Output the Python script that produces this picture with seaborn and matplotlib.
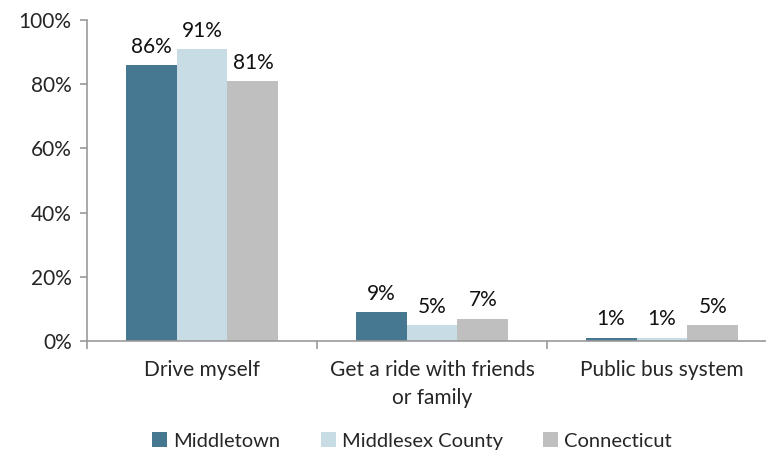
import matplotlib
matplotlib.use("Agg")
import matplotlib.pyplot as plt
import seaborn as sns
import pandas as pd

categories = ["Drive myself", "Get a ride with friends\nor family", "Public bus system"]
series = ["Middletown", "Middlesex County", "Connecticut"]
middletown = [86, 9, 1]
middlesex = [91, 5, 1]
connecticut = [81, 7, 5]
colors = ["#467891", "#C8DCE6", "#BFBFBF"]

rows = []
for name, vals in zip(series, [middletown, middlesex, connecticut]):
    for cat, v in zip(categories, vals):
        rows.append({"Category": cat, "Series": name, "Value": v})
df = pd.DataFrame(rows)

sns.set_style("white")
plt.rcParams["font.family"] = ["Lato", "DejaVu Sans"]
fs = 15

fig = plt.figure(figsize=(7.66, 4.66), dpi=100)
ax = fig.add_axes([87 / 766, 125 / 466, 690 / 766, 321 / 466])

sns.barplot(data=df, x="Category", y="Value", hue="Series", palette=colors,
            width=0.665, saturation=1, linewidth=0, ax=ax, legend=True)

for cont in ax.containers:
    ax.bar_label(cont, labels=[f"{int(v)}%" for v in cont.datavalues],
                 padding=6, fontsize=fs, color="#111111")

ax.set_ylim(0, 100)
ax.set_xlim(-0.5, 2.5)
ax.set_yticks([0, 20, 40, 60, 80, 100])
ax.set_yticklabels([f"{t}%" for t in [0, 20, 40, 60, 80, 100]], fontsize=fs)
ax.set_xlabel("")
ax.set_ylabel("")
ax.set_xticks([0, 1, 2], categories, fontsize=fs)
for lbl in ax.get_xticklabels():
    lbl.set_linespacing(1.45)
ax.tick_params(axis="x", length=0, pad=14)
ax.tick_params(axis="y", length=5, width=1.2, color="#999999", left=True, pad=6)
ax.set_xticks([-0.5, 0.5, 1.5, 2.5], minor=True)
ax.tick_params(axis="x", which="minor", length=6, width=1.2, color="#999999", bottom=True)

for s in ["top", "right"]:
    ax.spines[s].set_visible(False)
for s in ["left", "bottom"]:
    ax.spines[s].set_color("#999999")
    ax.spines[s].set_linewidth(1.2)

handles, labels = ax.get_legend_handles_labels()
ax.legend(handles, labels, loc="center", bbox_to_anchor=(412 / 766, 25 / 466),
          bbox_transform=fig.transFigure, ncol=3, frameon=False, fontsize=14.5,
          handlelength=0.75, handleheight=0.75, handletextpad=0.3, columnspacing=2.0)

fig.savefig("out.png", dpi=100)
